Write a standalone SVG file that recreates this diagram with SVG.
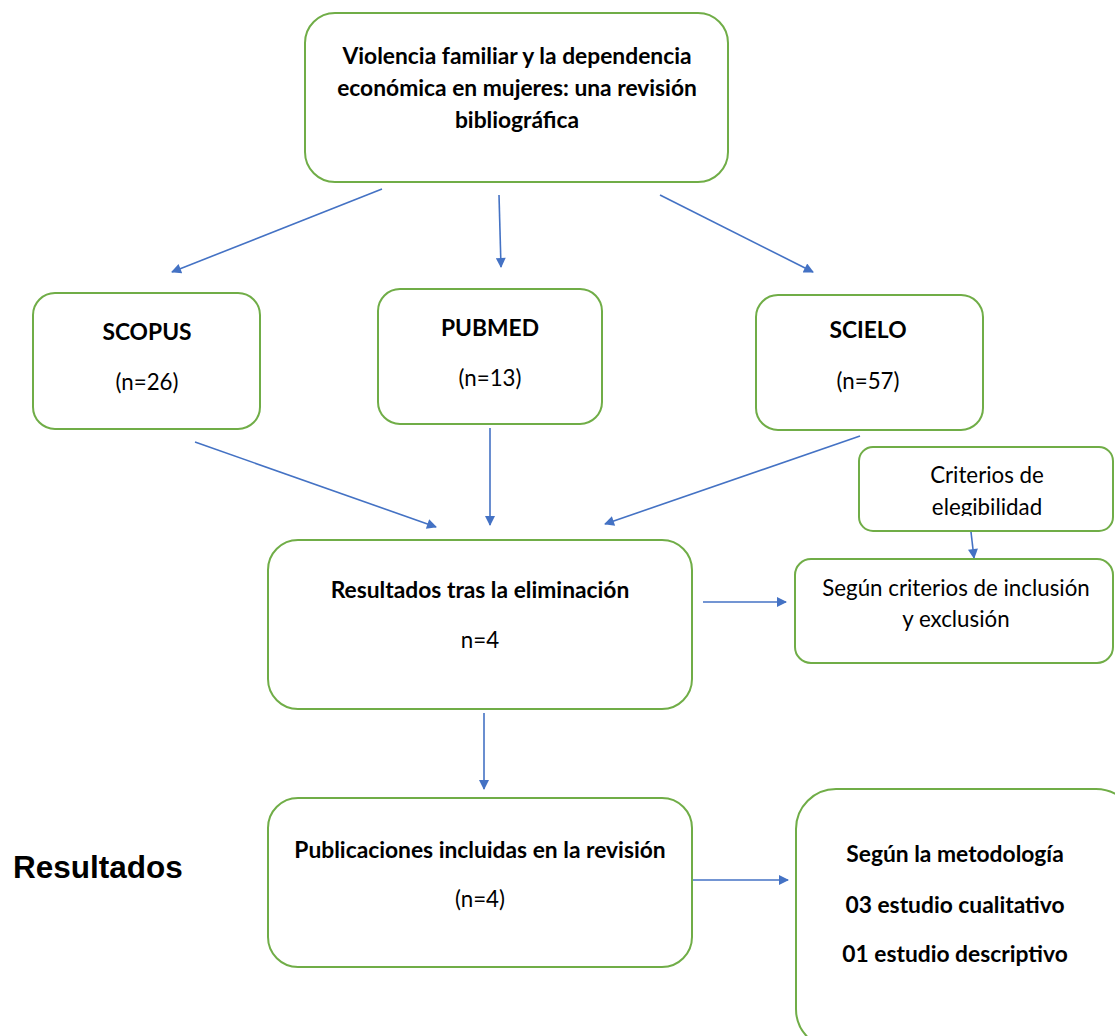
<svg xmlns="http://www.w3.org/2000/svg" width="1115" height="1036" viewBox="0 0 1115 1036">
<defs>
<style>
.box{fill:#fff;stroke:#70AD47;stroke-width:2}
.t{font-family:Lato,"Liberation Sans",sans-serif;font-size:22.3px;fill:#000;text-anchor:middle}
.b{font-weight:bold;font-size:22.8px}
.c{stroke:#4472C4;stroke-width:1.6;fill:none;marker-end:url(#ah)}
</style>
<marker id="ah" viewBox="0 0 10 10" refX="9" refY="5" markerWidth="11" markerHeight="10" markerUnits="userSpaceOnUse" orient="auto">
<path d="M0,0 L10,5 L0,10 z" fill="#4472C4"/>
</marker>
<clipPath id="clipCrit"><rect x="859" y="447" width="256" height="69"/></clipPath>
</defs>
<rect width="1115" height="1036" fill="#fff"/>
<g id="connectors">
<line class="c" x1="382" y1="189" x2="172" y2="272"/>
<line class="c" x1="499" y1="195" x2="501" y2="267"/>
<line class="c" x1="660" y1="195" x2="813" y2="272"/>
<line class="c" x1="195" y1="442" x2="436" y2="527"/>
<line class="c" x1="490" y1="428" x2="490" y2="525"/>
<line class="c" x1="860" y1="436" x2="605" y2="524"/>
<line class="c" x1="971" y1="532" x2="974" y2="558"/>
<line class="c" x1="703" y1="602" x2="786" y2="602"/>
<line class="c" x1="484" y1="713" x2="484" y2="789"/>
<line class="c" x1="693" y1="880" x2="788" y2="880"/>
</g>
<g id="n-title">
<rect class="box" x="305" y="13" width="423" height="169" rx="30"/>
<text class="t b" x="517" y="64">Violencia familiar y la dependencia</text>
<text class="t b" x="517" y="96">económica en mujeres: una revisión</text>
<text class="t b" x="517" y="128">bibliográfica</text>
</g>
<g id="n-scopus">
<rect class="box" x="33" y="293" width="227" height="136" rx="22"/>
<text class="t b" x="147" y="340">SCOPUS</text>
<text class="t" x="147" y="390">(n=26)</text>
</g>
<g id="n-pubmed">
<rect class="box" x="378" y="289" width="224" height="135" rx="22"/>
<text class="t b" x="490" y="336">PUBMED</text>
<text class="t" x="490" y="386">(n=13)</text>
</g>
<g id="n-scielo">
<rect class="box" x="756" y="295" width="227" height="135" rx="22"/>
<text class="t b" x="868" y="338">SCIELO</text>
<text class="t" x="868" y="389">(n=57)</text>
</g>
<g id="n-criterios">
<rect class="box" x="859" y="447" width="254" height="84" rx="14"/>
<g clip-path="url(#clipCrit)">
<text class="t" x="987" y="483">Criterios de</text>
<text class="t" x="987" y="515">elegibilidad</text>
</g>
</g>
<g id="n-resultados">
<rect class="box" x="268" y="540" width="424" height="169" rx="30"/>
<text class="t b" x="480" y="598">Resultados tras la eliminación</text>
<text class="t" x="480" y="648">n=4</text>
</g>
<g id="n-segun-criterios">
<rect class="box" x="795" y="559" width="318" height="104" rx="16"/>
<text class="t" x="956" y="596">Según criterios de inclusión</text>
<text class="t" x="956" y="627">y exclusión</text>
</g>
<g id="n-publicaciones">
<rect class="box" x="268" y="798" width="424" height="169" rx="30"/>
<text class="t b" x="480" y="858">Publicaciones incluidas en la revisión</text>
<text class="t" x="480" y="907">(n=4)</text>
</g>
<g id="n-metodologia">
<rect class="box" x="796" y="789" width="340" height="260" rx="40"/>
<text class="t b" x="955" y="862">Según la metodología</text>
<text class="t b" x="955" y="913">03 estudio cualitativo</text>
<text class="t b" x="955" y="962">01 estudio descriptivo</text>
</g>
<g id="n-label">
<text x="13" y="878" style="font-family:'Liberation Sans',Arial,sans-serif;font-size:31.5px;font-weight:bold;fill:#000">Resultados</text>
</g>
</svg>
